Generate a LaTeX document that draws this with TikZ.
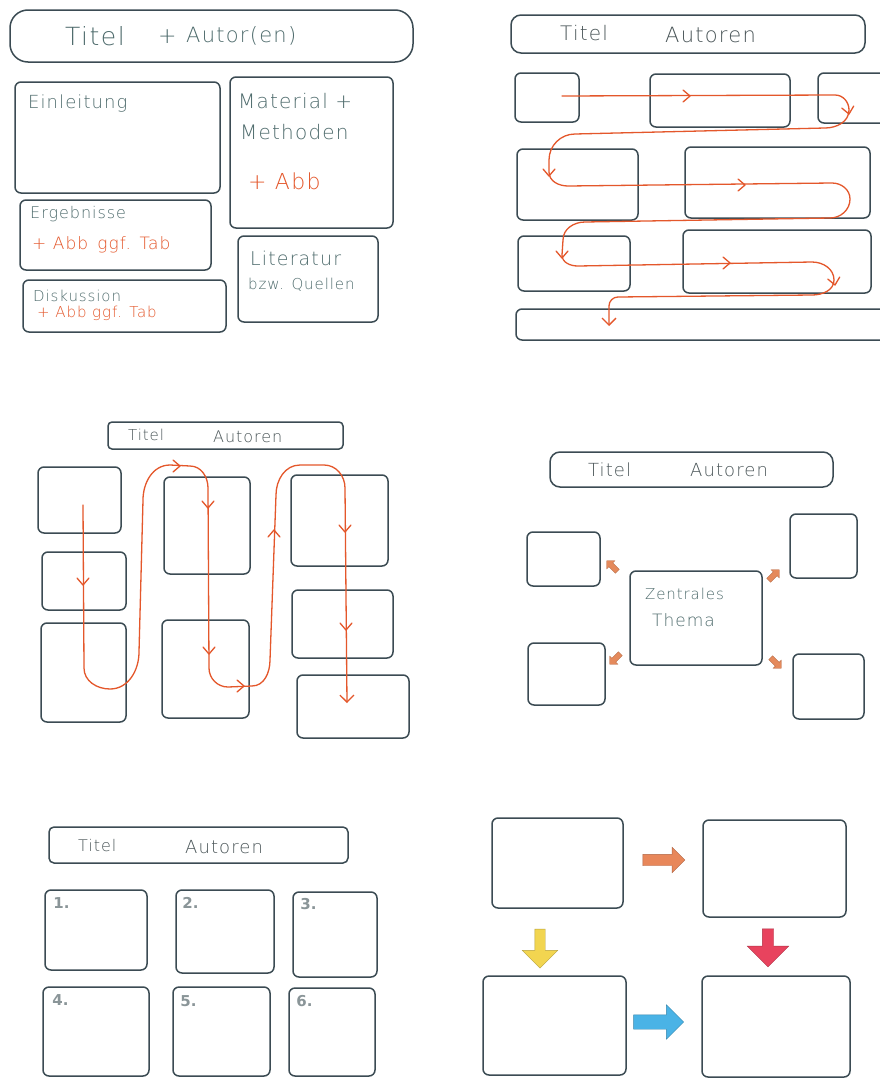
\documentclass[tikz,border=0pt]{standalone}
\usepackage{fontspec}
\newfontfamily\hand{DejaVu Sans ExtraLight}[LetterSpace=6]
\newfontfamily\numf{DejaVu Sans}
\usetikzlibrary{fit,shapes.arrows,arrows.meta}
\definecolor{boxc}{HTML}{3B4B53}
\definecolor{txt}{HTML}{4E6B6C}
\definecolor{txtg}{HTML}{4A5558}
\definecolor{org}{HTML}{E4572B}
\definecolor{numc}{HTML}{8A9598}
\definecolor{arrS}{HTML}{E58A5C}
\definecolor{arrO}{HTML}{E8875A}
\definecolor{arrY}{HTML}{F2D550}
\definecolor{arrR}{HTML}{E8435E}
\definecolor{arrB}{HTML}{4AB3E6}
\tikzset{
  box/.style={draw=boxc, line width=1.5pt, rounded corners=6pt, inner sep=0pt},
  tbox/.style={box, rounded corners=10pt},
  flow/.style={draw=org, line width=1.3pt, line cap=round, line join=round},
  tx/.style={text=txt, inner sep=0pt, anchor=west, font=\hand\fontsize{#1}{#1}\selectfont},
  tg/.style={tx=#1, text=txtg},
  ot/.style={tx=#1, text=org},
  num/.style={text=numc, inner sep=0pt, anchor=north west, font=\numf\bfseries\fontsize{15}{15}\selectfont},
  fat/.style={single arrow, inner xsep=0pt, single arrow head indent=0pt, line width=0.4pt},
  small/.style={fat, fill=arrS, draw=arrS!80!black, minimum height=15pt, inner ysep=2.5pt, single arrow head extend=3pt},
  chev/.pic={\draw[flow] (-7,-6) -- (0,0) -- (-7,6);},
  tip/.style={-{Straight Barb[length=7pt,width=14pt]}},
}
\begin{document}
\begin{tikzpicture}[x=1pt,y=-1pt]
\clip (0,0) rectangle (880,1079);
\fill[white] (0,0) rectangle (880,1079);

% ---------- Panel 1 ----------
\node[box, rounded corners=18pt, fit={(10,10)(413,62)}] (t1) {};
\node[tx=25] (t1a) at (65,36) {Titel};
\node[tx=22] (t1b) at (158,37) {+};
\node[tx=21] (t1c) at (186,36) {Autor(en)};
\node[box, fit={(15,82)(220,193)}] (ein) {};
\node[tx=18] (eint) at (28,104) {Einleitung};
\node[box, fit={(230,77)(393,228)}] (mat) {};
\node[tx=20] (matt) at (238,101) {Material +};
\node[tx=20] (mett) at (240,132) {Methoden};
\node[ot=22] (mata) at (248,181) {+ Abb};
\node[box, fit={(20,200)(211,270)}] (erg) {};
\node[tx=16] (ergt) at (30,214) {Ergebnisse};
\node[ot=17] (erga) at (32,245) {+ Abb\, ggf. Tab};
\node[box, fit={(23,280)(226,332)}] (dis) {};
\node[tx=15] (dist) at (33,296) {Diskussion};
\node[ot=15] (disa) at (37,313) {+ Abb ggf. Tab};
\node[box, fit={(238,236)(378,322)}] (lit) {};
\node[tx=19] (litt) at (250,258) {Literatur};
\node[tx=15] (litq) at (248,285) {bzw. Quellen};

% ---------- Panel 2 ----------
\node[tbox, fit={(511,15)(865,53)}] (t2) {};
\node[tg=20] (t2a) at (560,33) {Titel};
\node[tg=21] (t2b) at (665,35) {Autoren};
\node[box, fit={(515,73)(579,122)}] (a2) {};
\node[box, fit={(650,74)(790,127)}] (b2) {};
\node[box, fit={(818,73)(890,123)}] (c2) {};
\node[box, fit={(517,149)(638,220)}] (d2) {};
\node[box, fit={(685,147)(870,218)}] (e2) {};
\node[box, fit={(518,236)(630,291)}] (f2) {};
\node[box, fit={(683,230)(871,293)}] (g2) {};
\node[box, fit={(516,309)(895,340)}] (h2) {};
\coordinate (p2s) at (562,96);
\coordinate (p2e) at (609,326);
\draw[flow, tip] (p2s) -- (835,95) to[out=0,in=90] (849,110) to[out=-90,in=0] (825,128)
  -- (575,134) to[out=180,in=90] (549,160) -- (549,172) to[out=-90,in=180] (568,186)
  -- (832,183) to[out=0,in=90] (850,199) to[out=-90,in=0] (830,218)
  -- (585,222) to[out=180,in=90] (563,240) -- (562,255) to[out=-90,in=180] (578,266)
  -- (812,262) to[out=0,in=90] (834,280) to[out=-90,in=0] (812,295)
  -- (618,297) to[out=180,in=90] (609,306) -- (p2e);
\pic at (690,96) {chev};
\pic at (745,185) {chev};
\pic at (730,263) {chev};
\pic[rotate=-80] at (849,114) {chev};
\pic[rotate=-90] at (549,176) {chev};
\pic[rotate=-90] at (562,258) {chev};
\pic[rotate=-80] at (835,285) {chev};

% ---------- Panel 3 ----------
\node[box, rounded corners=4pt, fit={(108,422)(343,449)}] (t3) {};
\node[tg=15] (t3a) at (128,435) {Titel};
\node[tg=16] (t3b) at (213,437) {Autoren};
\node[box, fit={(38,467)(121,533)}] (a3) {};
\node[box, fit={(42,552)(126,610)}] (b3) {};
\node[box, fit={(41,623)(126,722)}] (c3) {};
\node[box, fit={(164,477)(250,574)}] (d3) {};
\node[box, fit={(162,620)(249,718)}] (e3) {};
\node[box, fit={(291,475)(388,566)}] (f3) {};
\node[box, fit={(292,590)(393,658)}] (g3) {};
\node[box, fit={(297,675)(409,738)}] (h3) {};
\coordinate (p3s) at (83,505);
\coordinate (p3e) at (347,703);
\draw[flow, tip] (p3s) -- (84,668) to[out=-90,in=180] (110,689) to[out=0,in=-90] (139,652)
  -- (143,500) to[out=90,in=180] (170,465) -- (190,466) to[out=0,in=90] (208,488)
  -- (209,668) to[out=-90,in=180] (228,687) -- (252,686) to[out=0,in=-90] (270,660)
  -- (276,495) to[out=90,in=180] (300,465) -- (324,465) to[out=0,in=90] (345,488) -- (p3e);
\pic[rotate=-90] at (83,585) {chev};
\pic[rotate=-90] at (208,508) {chev};
\pic[rotate=-90] at (209,654) {chev};
\pic[rotate=-90] at (345,532) {chev};
\pic[rotate=-90] at (346,630) {chev};
\pic[rotate=90] at (274,530) {chev};
\pic at (180,466) {chev};
\pic at (244,686) {chev};

% ---------- Panel 4 ----------
\node[box, rounded corners=10pt, fit={(550,452)(833,487)}] (t4) {};
\node[tg=18] (t4a) at (588,470) {Titel};
\node[tg=18] (t4b) at (690,470) {Autoren};
\node[box, fit={(527,532)(600,586)}] (ul4) {};
\node[box, fit={(790,514)(857,578)}] (ur4) {};
\node[box, fit={(630,571)(762,665)}] (c4) {};
\node[tx=15] (c4a) at (645,594) {Zentrales};
\node[tx=17] (c4b) at (652,620) {Thema};
\node[box, fit={(528,643)(605,705)}] (ll4) {};
\node[box, fit={(793,654)(864,719)}] (lr4) {};
\node[small, rotate=135] (aul) at (613,567) {};
\node[small, rotate=45] (aur) at (773,576) {};
\node[small, rotate=-135] (all) at (616,658) {};
\node[small, rotate=-45] (alr) at (775,662) {};

% ---------- Panel 5 ----------
\node[box, rounded corners=5pt, fit={(49,827)(348,863)}] (t5) {};
\node[tg=16] (t5a) at (78,846) {Titel};
\node[tg=18] (t5b) at (185,847) {Autoren};
\node[box, fit={(45,890)(147,970)}] (n1) {};
\node[box, fit={(176,890)(274,973)}] (n2) {};
\node[box, fit={(293,892)(377,977)}] (n3) {};
\node[box, fit={(43,987)(149,1076)}] (n4) {};
\node[box, fit={(173,987)(270,1076)}] (n5) {};
\node[box, fit={(289,988)(375,1076)}] (n6) {};
\node[num] (l1) at ([xshift=9pt,yshift=-8pt]n1.north west) {1.};
\node[num] (l2) at ([xshift=7pt,yshift=-8pt]n2.north west) {2.};
\node[num] (l3) at ([xshift=8pt,yshift=-7pt]n3.north west) {3.};
\node[num] (l4) at ([xshift=10pt,yshift=-8pt]n4.north west) {4.};
\node[num] (l5) at ([xshift=8pt,yshift=-9pt]n5.north west) {5.};
\node[num] (l6) at ([xshift=8pt,yshift=-8pt]n6.north west) {6.};

% ---------- Panel 6 ----------
\node[box, fit={(492,818)(623,908)}] (a6) {};
\node[box, fit={(703,820)(846,917)}] (b6) {};
\node[box, fit={(483,976)(626,1075)}] (c6) {};
\node[box, fit={(702,976)(850,1077)}] (d6) {};
\node[fat, fill=arrO, draw=arrO!75!black, minimum height=42pt, inner ysep=5.5pt, single arrow head extend=7pt] (o6) at (661,860) {};
\node[fat, fill=arrB, draw=arrB!75!black, minimum height=50pt, inner ysep=7pt, single arrow head extend=10pt] (b6a) at (655,1022) {};
\node[fat, fill=arrY, draw=arrY!75!black, minimum height=39pt, inner ysep=5pt, single arrow head extend=12.5pt, rotate=-90] (y6) at (540,946) {};
\node[fat, fill=arrR, draw=arrR!75!black, minimum height=38pt, inner ysep=5.5pt, single arrow head extend=15pt, rotate=-90] (r6) at (768,945) {};
\end{tikzpicture}
\end{document}
